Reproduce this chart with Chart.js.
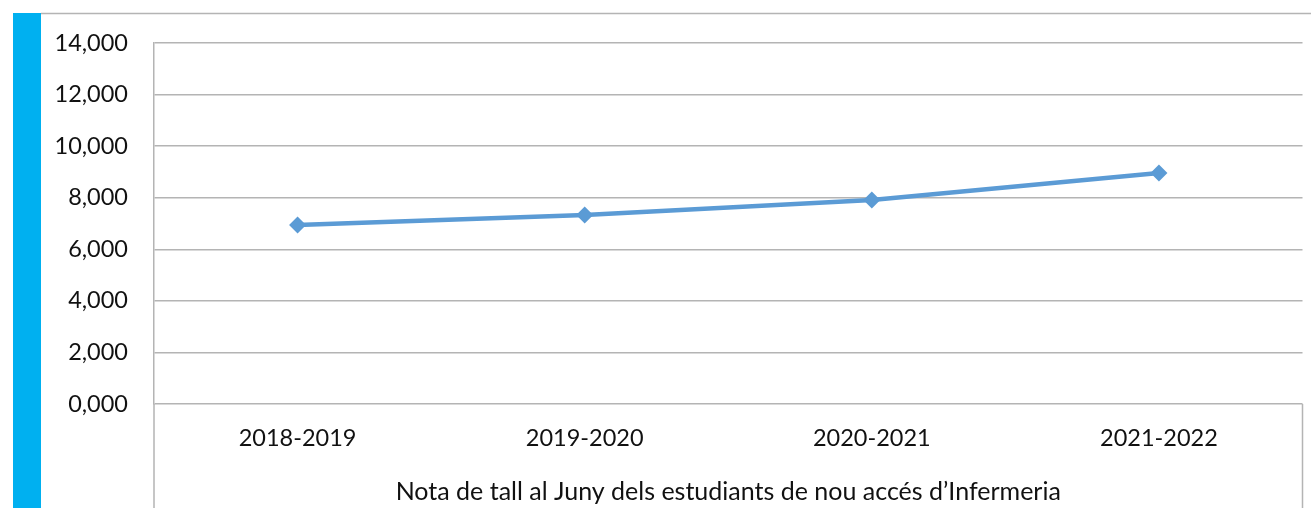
<!DOCTYPE html>
<html>
<head>
<meta charset="utf-8">
<script src="https://cdn.jsdelivr.net/npm/chart.js@4/dist/chart.umd.min.js"></script>
<style>
  html, body { margin: 0; padding: 0; background: #fff; }
  #wrap { width: 1311px; height: 508px; position: relative; }
</style>
</head>
<body>
<div id="wrap"><canvas id="c"></canvas></div>
<script>
// dades del gràfic
const cursos = ['2018-2019', '2019-2020', '2020-2021', '2021-2022'];
const notaTall = [6.94, 7.33, 7.91, 8.96];
const titolEix = 'Nota de tall al Juny dels estudiants de nou accés d\u2019Infermeria';

const gris = '#b4b4b4';
const blau = '#5b9bd5';
const text = '#111';

// decoració: barra blava a l'esquerra i vores del requadre
const marc = {
  id: 'marc',
  beforeDraw(chart) {
    const ctx = chart.ctx;
    const a = chart.chartArea;
    ctx.save();
    ctx.fillStyle = '#00b0f0';
    ctx.fillRect(13, 13, 28, chart.height - 13);
    ctx.strokeStyle = gris;
    ctx.lineWidth = 1.5;
    ctx.beginPath();
    ctx.moveTo(41, 13.5);
    ctx.lineTo(chart.width, 13.5);
    ctx.moveTo(a.left, a.bottom);
    ctx.lineTo(a.left, chart.height);
    ctx.moveTo(a.right, a.bottom);
    ctx.lineTo(a.right, chart.height);
    ctx.stroke();
    ctx.restore();
  }
};

new Chart(document.getElementById('c'), {
  type: 'line',
  data: {
    labels: cursos,
    datasets: [{
      data: notaTall,
      borderColor: blau,
      backgroundColor: blau,
      borderWidth: 4.5,
      tension: 0,
      pointStyle: 'rectRot',
      pointRadius: 8.5,
      pointHoverRadius: 8.5,
      pointBorderWidth: 0
    }]
  },
  options: {
    responsive: true,
    maintainAspectRatio: false,
    animation: false,
    layout: { padding: { left: 41, top: 43, right: 6, bottom: 0 } },
    plugins: { legend: { display: false }, tooltip: { enabled: false } },
    scales: {
      x: {
        offset: true,
        grid: { display: false, drawTicks: false },
        border: { display: false },
        ticks: { color: text, font: { family: 'Lato', size: 23.5 }, padding: 20, maxRotation: 0 },
        title: {
          display: true,
          text: titolEix,
          color: text,
          font: { family: 'Lato', size: 25 },
          padding: { top: 0, bottom: 1 }
        },
        afterFit(s) { s.height = 104; }
      },
      y: {
        min: 0,
        max: 14,
        grid: { color: gris, lineWidth: 1.5, drawTicks: false },
        border: { display: true, color: gris, width: 1.5 },
        ticks: {
          stepSize: 2,
          padding: 26,
          color: text,
          font: { family: 'Lato', size: 23.5 },
          callback: v => v.toFixed(3).replace('.', ',')
        },
        afterFit(s) { s.width = 113; }
      }
    }
  },
  plugins: [marc]
});
</script>
</body>
</html>
